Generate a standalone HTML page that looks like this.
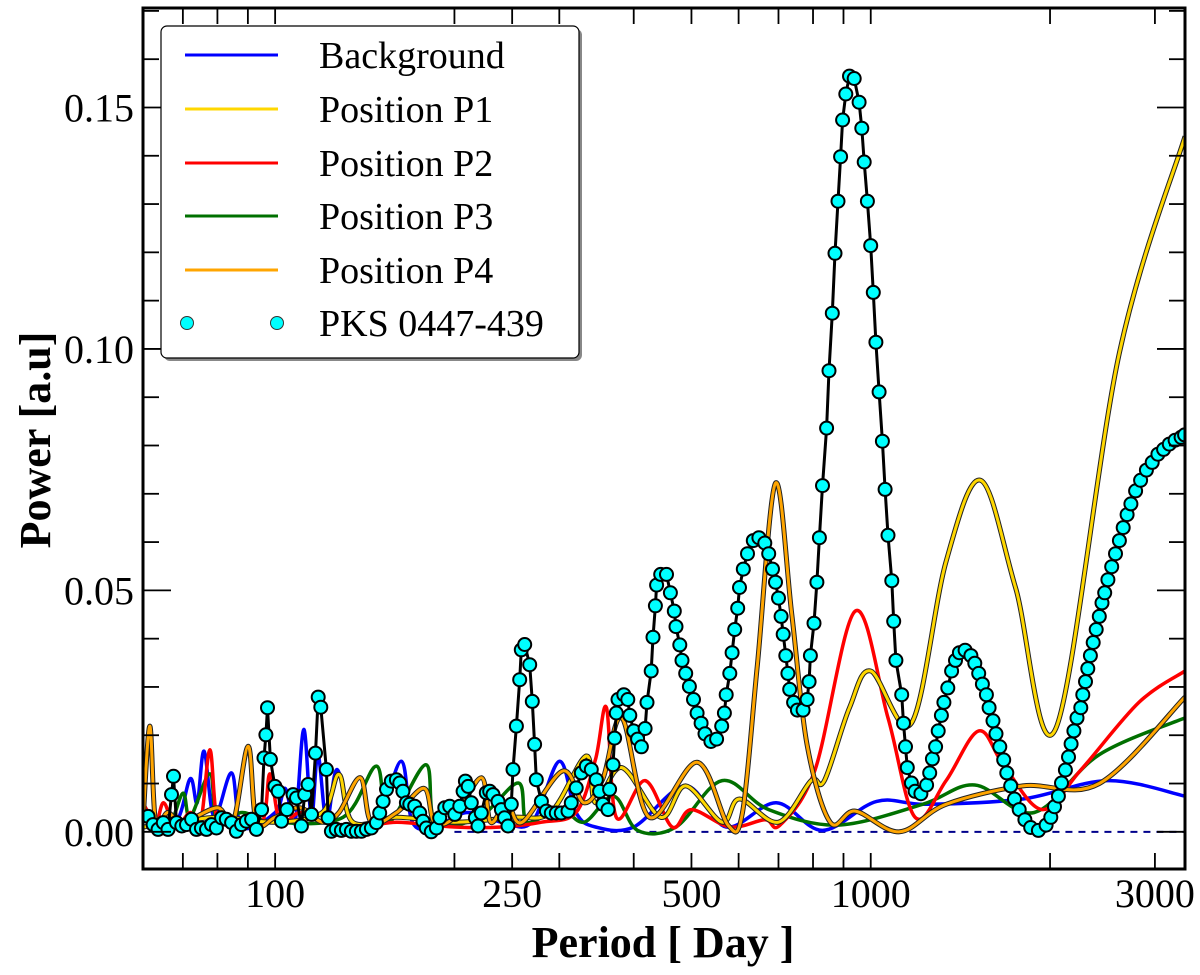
<!DOCTYPE html>
<html><head><meta charset="utf-8"><title>Periodogram</title>
<style>
html,body{margin:0;padding:0;background:#fff;}
svg{display:block;font-family:"Liberation Serif",serif;}
</style></head>
<body>
<svg id="chart" width="1200" height="975" viewBox="0 0 1200 975" xmlns="http://www.w3.org/2000/svg">
<defs><clipPath id="plotclip"><rect x="143" y="8" width="1042" height="861"/></clipPath></defs>
<rect x="0" y="0" width="1200" height="975" fill="#fff"/>
<g id="series" clip-path="url(#plotclip)"></g>
<g id="axes"></g>
<g id="legend">
  <rect x="164" y="29" width="418" height="332" rx="6" fill="#888"/>
  <rect x="161" y="26" width="418" height="332" rx="6" fill="#fff" stroke="#000" stroke-width="1.2"/>
  <g><line x1="185" y1="55" x2="278" y2="55" stroke="#0000ff" stroke-width="3"/><text x="319" y="68" font-size="38">Background</text></g>
  <g><line x1="185" y1="109" x2="278" y2="109" stroke="#ffd700" stroke-width="3"/><text x="319" y="122" font-size="38">Position P1</text></g>
  <g><line x1="185" y1="163" x2="278" y2="163" stroke="#ff0000" stroke-width="3"/><text x="319" y="176" font-size="38">Position P2</text></g>
  <g><line x1="185" y1="216" x2="278" y2="216" stroke="#007000" stroke-width="3"/><text x="319" y="229" font-size="38">Position P3</text></g>
  <g><line x1="185" y1="270" x2="278" y2="270" stroke="#ffa500" stroke-width="3"/><text x="319" y="283" font-size="38">Position P4</text></g>
  <g><circle cx="187" cy="323" r="6.5" fill="#00ffff" stroke="#333" stroke-width="1"/><circle cx="277" cy="323" r="6.5" fill="#00ffff" stroke="#333" stroke-width="1"/><text x="319" y="336" font-size="38">PKS 0447-439</text></g>
</g>
<text x="0" y="0" transform="translate(50,440) rotate(-90)" text-anchor="middle" font-size="44" font-weight="bold">Power [a.u]</text>
<text x="663" y="957" text-anchor="middle" font-size="44" font-weight="bold">Period [ Day ]</text>
</svg>
<script>
// ---- data ----
const xTickLabels = [100, 250, 500, 1000, 3000];
const xMinorTicks = [60,70,80,90,100,200,250,300,400,500,600,700,800,900,1000,2000,3000];
const yTickLabels = [0.00, 0.05, 0.10, 0.15];

const pksPeriods = [61.2,62.4,63.6,64.9,66.1,67.0,67.5,68.3,69.7,71.0,72.4,73.8,75.2,76.7,78.2,79.7,81.3,82.8,84.5,86.1,87.8,89.5,91.3,93.0,94.9,95.8,96.5,97.1,98.2,99.9,101.2,102.5,104.7,107.2,108.6,110.7,112.1,113.6,115.1,116.9,118.1,119.3,121.9,122.7,124.3,126.7,129.2,131.7,134.3,136.9,139.6,142.3,145.1,147.9,149.8,151.8,153.8,156.7,159.8,161.9,163.9,166.1,168.3,171.5,174.9,177.1,179.4,182.9,186.5,188.9,192.7,196.4,200.3,204.2,206.8,208.7,210.9,213.5,216.9,219.1,221.9,226.2,229.2,232.2,236.7,239.8,242.8,246.0,249.2,250.8,254.1,257.4,259.0,262.4,267.5,270.3,272.7,274.5,279.9,285.4,290.9,296.5,302.3,310.2,314.2,320.3,326.6,333.0,339.5,346.1,350.5,355.1,362.1,364.4,369.2,371.5,374.0,376.4,
385,391,394,400,406,412,418,421,428,431,435,437,444,454,461,468,471,478,482,489,496,504,511,519,527,539,551,562,568,572,580,585,591,598,602,611,621,635,649,664,674,684,692,700,707,713,720,726,731,742,753,770,782,788,792,803,812,820,830,843,851,862,871,881,890,897,908,921,938,956,966,975,987,1000,1010,1020,1033,1046,1057,1069,1085,1093,1102,1127,1135,1144,1152,1170,1187,1214,1241,1256,1269,1285,1298,1314,1327,1347,1367,1388,1409,1440,1473,1495,1518,1540,1564,1580,1604,1623,1647,1672,1692,1718,1743,1775,1815,1856,1912,1970,2006,2035,2066,2091,2122,2148,2170,2193,2220,2253,2270,2294,2314,2338,2363,2391,2420,2445,2471,2501,2538,2576,2615,2654,2694,2734,2784,2839,2903,2969,3035,3103,3172,3244,3319,3365];
const pksPower = [.0032,.0015,.0005,.0019,.0005,.0077,.0115,.0019,.0012,.0015,.0026,.0005,.0008,.0005,.0015,.0008,.0029,.0026,.0019,.0001,.0015,.0022,.0026,.0005,.0046,.0153,.0201,.0257,.0150,.0094,.0084,.0022,.0046,.0077,.0070,.0012,.0077,.0098,.0036,.0163,.0279,.0258,.0129,.0029,.0001,.0005,.0003,.0005,.0001,.0001,.0001,.0005,.0008,.0019,.0039,.0063,.0088,.0105,.0108,.0101,.0084,.0060,.0057,.0053,.0039,.0022,.0008,.0000,.0008,.0029,.0050,.0053,.0036,.0053,.0084,.0105,.0094,.0060,.0029,.0012,.0039,.0081,.0084,.0077,.0063,.0046,.0029,.0012,.0057,.0129,.0219,.0315,.0377,.0388,.0346,.0270,.0181,.0108,.0063,.0043,.0039,.0039,.0039,.0043,.0060,.0091,.0122,.0136,.0129,.0108,.0084,.0057,.0046,.0088,.0139,.0194,.0246,.0274,
.0284,.0274,.0241,.0209,.0192,.0176,.0214,.0268,.0333,.0403,.0468,.0511,.0533,.0533,.0495,.0457,.0425,.0387,.0355,.0328,.0301,.0274,.0246,.0225,.0203,.0187,.0192,.0219,.0246,.0284,.0328,.0371,.0419,.0463,.0506,.0544,.0576,.0603,.0609,.0598,.0576,.0544,.0517,.0484,.0446,.0409,.0365,.0328,.0295,.0268,.0252,.0252,.0274,.0311,.0365,.0432,.0517,.0609,.0717,.0836,.0955,.1074,.1198,.1306,.1398,.1474,.1528,.1565,.1560,.1511,.1457,.1387,.1306,.1214,.1117,.1014,.0911,.0809,.0709,.0614,.0520,.0436,.0355,.0284,.0225,.0176,.0133,.0101,.0084,.0079,.0097,.0122,.0151,.0176,.0209,.0241,.0268,.0298,.0333,.0355,.0371,.0376,.0365,.0349,.0328,.0306,.0284,.0257,.0230,.0203,.0176,.0149,.0122,.0095,.0068,.0046,.0025,.0009,.0003,.0014,.0030,.0052,.0074,.0101,.0128,.0155,.0182,.0209,.0236,.0257,.0284,.0311,.0338,.0365,.0392,.0419,.0446,.0474,.0495,.0522,.0549,.0576,.0603,.0630,.0657,.0679,.0706,.0728,.0749,.0765,.0782,.0792,.0803,.0811,.0817,.0822];

const bgPeriods = [60,68,72,74,76,79,84.5,88,100,104,108,111.7,115,118,122,127,135,150,163,170,185,210,240,270,300,320,345,400,489,572,694,830,1023,1241,1800,2500,3370];
const bgPower = [.003,.002,.011,.006,.0167,.003,.0122,.001,.004,.009,.002,.0212,.003,.016,.002,.0129,.002,.004,.0146,.002,.001,.004,.002,.002,.0146,.004,.001,.001,.0095,.001,.006,.0003,.0063,.0057,.0068,.0106,.0074];

const p1Periods = [60,80,100,120,128,135,160,200,250,290,333,345,382,444,489,563,602,700,794,836,921,1000,1170,1338,1530,1750,2045,2615,3370];
const p1Power = [.001,.003,.002,.004,.0119,.002,.003,.002,.003,.004,.0157,.006,.0133,.003,.0095,.002,.0068,.002,.0106,.0106,.0257,.0333,.0225,.056,.0728,.0506,.0214,.0992,.144];

const p2Periods = [60,63,65,68,72,75,77.7,80,85,95,98,102,110,120,140,160,200,240,280,320,345,360,374,418,464,500,580,664,704,806,942,1069,1187,1338,1518,1672,1941,2253,2820,3370];
const p2Power = [.006,.002,.006,.001,.004,.002,.017,.002,.003,.002,.012,.002,.004,.002,.001,.002,.001,.001,.002,.004,.015,.0257,.003,.0106,.001,.0046,.001,.0025,.0014,.0128,.0457,.0236,.003,.0106,.0209,.0138,.0046,.0128,.0268,.0333];

const p3Periods = [60,66,70,72,77.7,80,88,100,130,148,155,179,186,220,256,265,300,330,370,406,471,563,674,881,1222,1495,1882,2420,3370];
const p3Power = [.003,.001,.008,.003,.012,.002,.004,.002,.003,.0136,.002,.0139,.002,.003,.0101,.002,.005,.002,.0074,.0003,.001,.0106,.0046,.0014,.0057,.0097,.004,.016,.0236];

const p4Periods = [60,61.6,63,66,70,80,85,90.1,93,100,110,120,128,139,145,160,178,185,200,222,230,245,260,304,330,355,382,425,511,576,609,645,692,737,782,855,942,1118,1338,1800,2420,3370];
const p4Power = [.002,.0219,.002,.004,.002,.005,.002,.0177,.002,.003,.005,.002,.004,.0112,.002,.004,.009,.002,.003,.0112,.002,.006,.002,.0126,.006,.011,.0236,.003,.0144,.0014,.004,.0344,.0722,.045,.018,.002,.0043,.0,.0057,.0095,.010,.0279];

// ---- axes functions ----
const X0 = 143, X1 = 1185, Y0 = 869, Y1 = 8;
const xmin = 60, xmax = 3370, ymin = -0.0077, ymax = 0.1706;
function sx(p){ return X0 + (Math.log10(p) - Math.log10(xmin)) / (Math.log10(xmax) - Math.log10(xmin)) * (X1 - X0); }
function sy(v){ return Y0 - (v - ymin) / (ymax - ymin) * (Y0 - Y1); }

const NS = "http://www.w3.org/2000/svg";
const series = document.getElementById('series');
const axes = document.getElementById('axes');
function mk(tag, attrs, parent){ const e = document.createElementNS(NS, tag); for (const k in attrs) e.setAttribute(k, attrs[k]); parent.appendChild(e); return e; }

function smoothPath(ps, vs){
  const pts = ps.map((p,i)=>[sx(p), sy(vs[i])]);
  let d = `M${pts[0][0].toFixed(1)},${pts[0][1].toFixed(1)}`;
  for (let i=0;i<pts.length-1;i++){
    const p0 = pts[Math.max(0,i-1)], p1 = pts[i], p2 = pts[i+1], p3 = pts[Math.min(pts.length-1,i+2)];
    const c1 = [p1[0]+(p2[0]-p0[0])/6, p1[1]+(p2[1]-p0[1])/6];
    const c2 = [p2[0]-(p3[0]-p1[0])/6, p2[1]-(p3[1]-p1[1])/6];
    d += ` C${c1[0].toFixed(1)},${c1[1].toFixed(1)} ${c2[0].toFixed(1)},${c2[1].toFixed(1)} ${p2[0].toFixed(1)},${p2[1].toFixed(1)}`;
  }
  return d;
}

// zero dashed line
const zl = mk('line', {x1: sx(200), y1: sy(0), x2: X1, y2: sy(0), stroke: '#00008b', 'stroke-width': 2, 'stroke-dasharray': '7,6'}, series);



function drawLine(ps, vs, color, outline, name){
  const d = smoothPath(ps, vs);
  if (outline){
    const o = mk('path', {d: d, fill: 'none', stroke: '#222', 'stroke-width': 5, 'stroke-linejoin': 'round'}, series);
    
    
  }
  const p = mk('path', {d: d, fill: 'none', stroke: color, 'stroke-width': outline ? 3 : 3.5, 'stroke-linejoin': 'round'}, series);
  
  
}
drawLine(bgPeriods, bgPower, '#0000ff', false, 'background-line');
drawLine(p3Periods, p3Power, '#007000', false, 'p3-line');
drawLine(p2Periods, p2Power, '#ff0000', false, 'p2-line');
drawLine(p1Periods, p1Power, '#ffd700', true, 'p1-line');
drawLine(p4Periods, p4Power, '#ffa500', true, 'p4-line');

// PKS line + markers
const pl = mk('polyline', {points: pksPeriods.map((p,i)=>sx(p).toFixed(1)+','+sy(pksPower[i]).toFixed(1)).join(' '), fill: 'none', stroke: '#000', 'stroke-width': 3}, series);


pksPeriods.forEach((p,i)=>{
  const c = mk('circle', {cx: sx(p).toFixed(1), cy: sy(pksPower[i]).toFixed(1), r: 6.5, fill: '#00ffff', stroke: '#000', 'stroke-width': 2}, series);
  
  
});

// frame
const fr = mk('rect', {x: X0, y: Y1, width: X1 - X0, height: Y0 - Y1, fill: 'none', stroke: '#000', 'stroke-width': 3}, axes);



// x ticks
xMinorTicks.forEach(t=>{
  const x = sx(t);
  const a = mk('line', {x1: x, y1: Y0, x2: x, y2: Y0 - 16, stroke: '#000', 'stroke-width': 1.8}, axes);
  
  
  const b = mk('line', {x1: x, y1: Y1, x2: x, y2: Y1 + 16, stroke: '#000', 'stroke-width': 1.8}, axes);
  
  
});
xTickLabels.forEach(t=>{
  const tx = mk('text', {x: sx(t), y: 907, 'text-anchor': 'middle', 'font-size': 40}, axes);
  tx.textContent = String(t);
  
  
});
// y ticks
for (let i = 0; i <= 17; i++){
  const v = i * 0.01;
  const y = sy(v);
  const len = (i % 5 === 0) ? 28 : 16;
  const a = mk('line', {x1: X0, y1: y, x2: X0 + len, y2: y, stroke: '#000', 'stroke-width': 1.8}, axes);
  
  
  const b = mk('line', {x1: X1, y1: y, x2: X1 - len, y2: y, stroke: '#000', 'stroke-width': 1.8}, axes);
  
  
}
yTickLabels.forEach(v=>{
  const tx = mk('text', {x: 134, y: sy(v) + 14, 'text-anchor': 'end', 'font-size': 40}, axes);
  tx.textContent = v.toFixed(2);
  
  
});
</script>
</body></html>
